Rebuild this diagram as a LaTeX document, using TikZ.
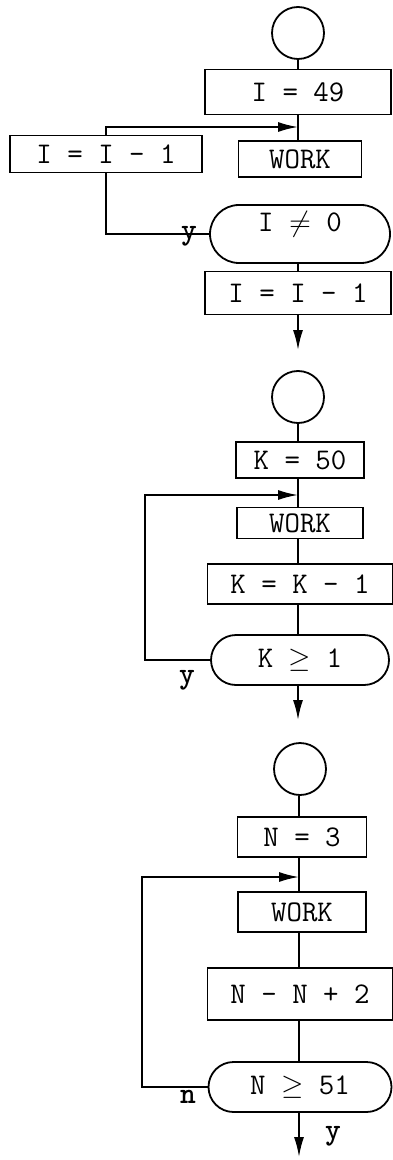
\documentclass[tikz,border=0pt]{standalone}
\usepackage{tikz}
\usetikzlibrary{shapes,arrows.meta,positioning,calc}

\tikzset{
  flow/.style={line width=0.9pt},
  stepbox/.style={draw, line width=0.9pt, rectangle, inner sep=0pt},
  startc/.style={draw, line width=0.9pt, circle, minimum size=26pt, inner sep=0pt},
  testbox/.style={draw, line width=0.9pt, rounded rectangle, inner sep=0pt},
  loopto/.style={flow, -{Latex[length=10pt, width=5pt]}},
  branch/.style={font=\fontsize{15}{16}\selectfont\ttfamily\bfseries},
}

\begin{document}
\begin{tikzpicture}[x=0.5pt, y=-0.5pt, every node/.style={font=\fontsize{15}{16}\selectfont\ttfamily}]
  \useasboundingbox (0,0) rectangle (392,1160);

  % first loop: I counts down
  \node[startc] (c1) at (298,33) {};
  \node[stepbox, minimum width=93pt, minimum height=22.5pt] (i49) at (298,92) {I = 49};
  \node[stepbox, minimum width=61.5pt, minimum height=18pt] (work1) at (300,159) {WORK};
  \node[stepbox, minimum width=96pt, minimum height=18.5pt] (idec1) at (106,154) {I = I - 1};
  \node[testbox, minimum width=90pt, minimum height=29pt, text depth=12pt] (cond1) at (300,234) {I ${\neq}$ 0};
  \node[stepbox, minimum width=93pt, minimum height=21.5pt] (idec2) at (298,293) {I = I - 1};
  \coordinate (in1) at (298,127);
  \coordinate (out1) at (298,350);
  \draw[flow] (c1.south) -- (c1.south |- i49.north);
  \draw[flow] (i49.south) -- (i49.south |- work1.north);
  \draw[flow] (work1.south -| in1) -- (work1.south -| in1 |- cond1.north);
  \draw[flow] (cond1.west) -- (idec1.south |- cond1.west) -- (idec1.south);
  \draw[loopto] (idec1.north) -- (idec1.north |- in1) -- (in1);
  \draw[flow] (cond1.south -| in1) -- (idec2.north -| in1);
  \draw[loopto] (idec2.south -| in1) -- (out1);
  \node[branch] (y1) at (189,236) {y};

  % second loop: K counts down
  \node[startc] (c2) at (298,397) {};
  \node[stepbox, minimum width=64pt, minimum height=18pt] (k50) at (300,460) {K = 50};
  \node[stepbox, minimum width=63pt, minimum height=15.5pt] (work2) at (300,523) {WORK};
  \node[stepbox, minimum width=92.5pt, minimum height=20pt] (kdec) at (300,584) {K = K - 1};
  \node[testbox, minimum width=89pt, minimum height=25pt] (cond2) at (300,660) {K ${\geq}$ 1};
  \coordinate (in2) at (298,495);
  \coordinate (out2) at (298,720);
  \draw[flow] (c2.south) -- (c2.south |- k50.north);
  \draw[flow] (k50.south -| in2) -- (work2.north -| in2);
  \draw[flow] (work2.south -| in2) -- (kdec.north -| in2);
  \draw[flow] (kdec.south -| in2) -- (cond2.north -| in2);
  \draw[loopto] (cond2.west) -- (145,660) -- (145,495) -- (in2);
  \draw[loopto] (cond2.south -| in2) -- (out2);
  \node[branch] (y2) at (187,680) {y};

  % third loop: N counts up
  \node[startc] (c3) at (300,769) {};
  \node[stepbox, minimum width=64.5pt, minimum height=20pt] (n3) at (302,837) {N = 3};
  \node[stepbox, minimum width=64pt, minimum height=20pt] (work3) at (302,912) {WORK};
  \node[stepbox, minimum width=92.5pt, minimum height=26pt] (ninc) at (300,994) {N - N + 2};
  \node[testbox, minimum width=91.5pt, minimum height=25pt] (cond3) at (300,1087) {N ${\geq}$ 51};
  \coordinate (in3) at (299,877);
  \coordinate (out3) at (299,1157);
  \draw[flow] (c3.south -| in3) -- (n3.north -| in3);
  \draw[flow] (n3.south -| in3) -- (work3.north -| in3);
  \draw[flow] (work3.south -| in3) -- (ninc.north -| in3);
  \draw[flow] (ninc.south -| in3) -- (cond3.north -| in3);
  \draw[loopto] (cond3.west) -- (142,1087) -- (142,877) -- (in3);
  \draw[loopto] (cond3.south -| in3) -- (out3);
  \node[branch] (n4) at (188,1097) {n};
  \node[branch] (y3) at (333,1136) {y};
\end{tikzpicture}
\end{document}
